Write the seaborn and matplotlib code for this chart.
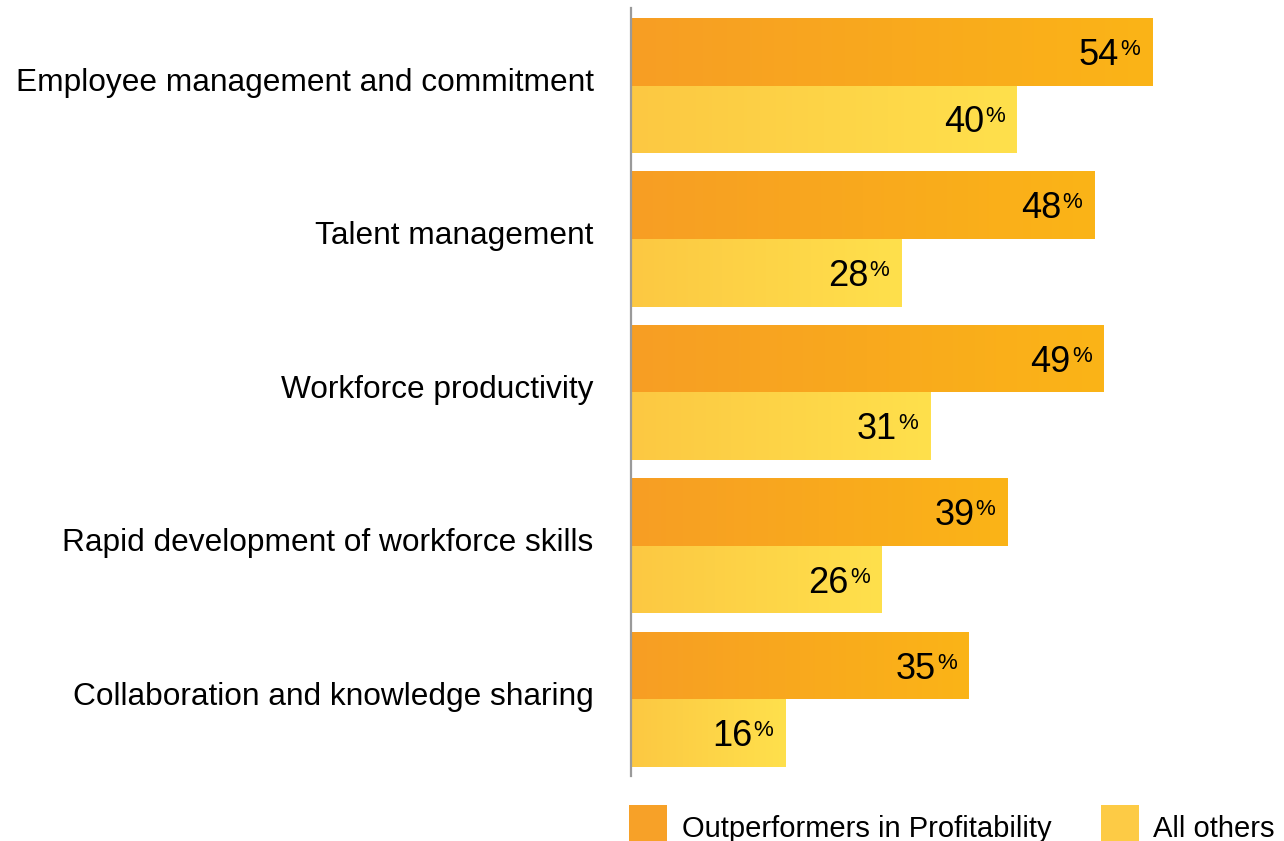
import numpy as np
import pandas as pd
import matplotlib
matplotlib.use("Agg")
import matplotlib.pyplot as plt
from matplotlib.colors import LinearSegmentedColormap
from matplotlib.legend_handler import HandlerPatch
from matplotlib.transforms import ScaledTranslation
import seaborn as sns

categories = [
    "Employee management and commitment",
    "Talent management",
    "Workforce productivity",
    "Rapid development of workforce skills",
    "Collaboration and knowledge sharing",
]
outperformers = [54, 48, 49, 39, 35]
all_others = [40, 28, 31, 26, 16]
series_names = ["Outperformers in Profitability", "All others"]

sns.set_style("white")
plt.rcParams["font.family"] = ["Liberation Sans", "DejaVu Sans"]

df = pd.DataFrame({
    "category": categories * 2,
    "value": outperformers + all_others,
    "group": [series_names[0]] * len(categories) + [series_names[1]] * len(categories),
})

solid = {series_names[0]: "#F7A128", series_names[1]: "#FDCB45"}
ramps = [
    LinearSegmentedColormap.from_list("orange_ramp", ["#F79E24", "#FBB417"]),
    LinearSegmentedColormap.from_list("yellow_ramp", ["#FCC842", "#FFE04C"]),
]

W, H = 1284, 841
fig = plt.figure(figsize=(W / 100, H / 100), dpi=100)
ax = fig.add_axes([631 / W, 1 - 776 / H, (W - 631) / W, 768 / H])

sns.barplot(data=df, y="category", x="value", hue="group", orient="h",
            width=0.88, palette=solid, ax=ax, legend=False,
            saturation=1, linewidth=0)

# Horizontal colour ramp over each bar, clipped to the bar's rectangle
ramp = np.linspace(0, 1, 256).reshape(1, -1)
series_values = [outperformers, all_others]
for cont, cmap, vals in zip(ax.containers, ramps, series_values):
    for patch, v in zip(cont.patches, vals):
        x0, y0 = patch.get_x(), patch.get_y()
        w, h = patch.get_width(), patch.get_height()
        im = ax.imshow(ramp, cmap=cmap, extent=(x0, x0 + w, y0 + h, y0),
                       aspect="auto", interpolation="bilinear", zorder=2)
        im.set_clip_path(patch)
        yc = y0 + h / 2
        ax.annotate(f"{v}", xy=(x0 + w, yc), xytext=(-33, -13),
                    textcoords="offset pixels", ha="right", va="baseline",
                    fontsize=26, color="black", zorder=3)
        ax.annotate("%", xy=(x0 + w, yc), xytext=(-12, -3),
                    textcoords="offset pixels", ha="right", va="baseline",
                    fontsize=16, color="black", zorder=3)

ax.set_xlim(0, 653 / 9.65)
ax.set_ylim(4.499, -0.505)
ax.set_xlabel("")
ax.set_ylabel("")
ax.set_xticks([])
ax.tick_params(axis="y", length=0, pad=27, labelsize=22.8, labelcolor="black")
lift = ScaledTranslation(0, 6 / 100, fig.dpi_scale_trans)
for lbl in ax.get_yticklabels():
    lbl.set_transform(lbl.get_transform() + lift)
for side in ["top", "right", "bottom"]:
    ax.spines[side].set_visible(False)
ax.spines["left"].set_color("#9a9a9a")
ax.spines["left"].set_linewidth(1.6)
ax.spines["left"].set_zorder(4)


def raised_square(legend, orig_handle, xdescent, ydescent, width, height, fontsize):
    return plt.Rectangle((-xdescent, -ydescent - 1.7), width, height + 6)


handles = [plt.Rectangle((0, 0), 1, 1, facecolor=solid[n], edgecolor="none")
           for n in series_names]
leg = fig.legend(handles, series_names, loc="upper left",
                 bbox_to_anchor=(629 / W, 1 - 811 / H), ncol=2, frameon=False,
                 fontsize=21, handlelength=1.3, handleheight=1.3,
                 handletextpad=0.5, columnspacing=1.7, borderpad=0,
                 borderaxespad=0,
                 handler_map={plt.Rectangle: HandlerPatch(patch_func=raised_square)})
for t in leg.get_texts():
    t.set_color("black")

fig.savefig("out.png", dpi=100)
